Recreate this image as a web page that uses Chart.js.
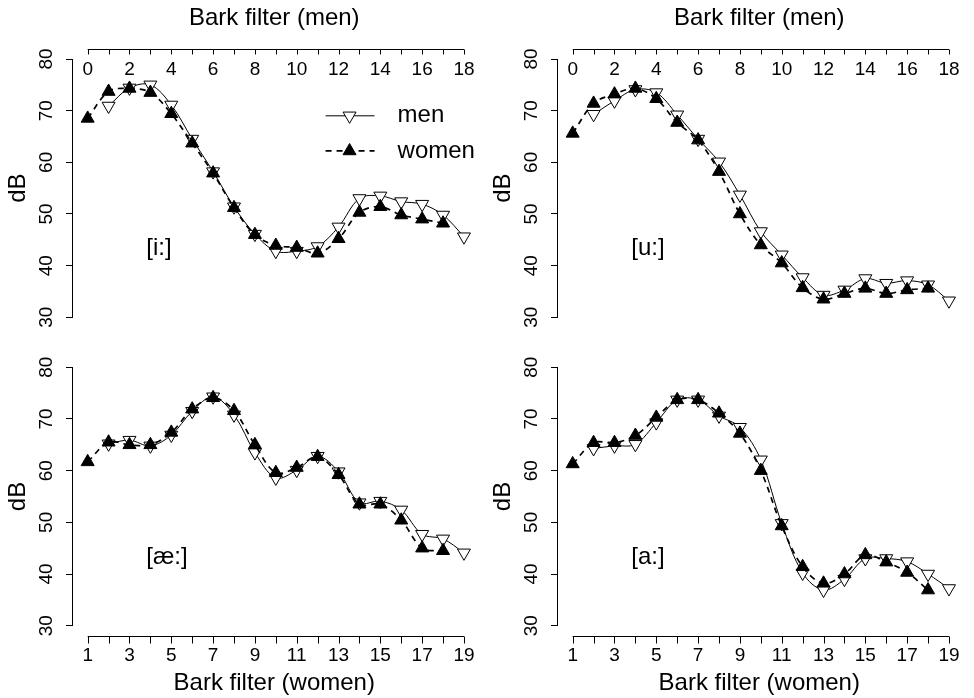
<!DOCTYPE html>
<html lang="en">
<head>
<meta charset="UTF-8">
<title>Bark filter spectra</title>
<script src="https://cdn.jsdelivr.net/npm/chart.js@4.4.0/dist/chart.umd.min.js"></script>
<style>
  html, body { margin: 0; padding: 0; background: #fff; }
  #page { position: relative; width: 974px; height: 698px; overflow: hidden; }
  .panel { position: absolute; }
</style>
</head>
<body>
<div id="page">
  <div class="panel" style="left:0;top:0"><canvas id="cI" width="485" height="340"></canvas></div>
  <div class="panel" style="left:485px;top:0"><canvas id="cU" width="485" height="340"></canvas></div>
  <div class="panel" style="left:0;top:340px"><canvas id="cAE" width="485" height="358"></canvas></div>
  <div class="panel" style="left:485px;top:340px"><canvas id="cA" width="485" height="358"></canvas></div>
</div>

<script>
// filter numbers; men and women are drawn one Bark apart on a shared position axis
const menBark   = [1, 2, 3, 4, 5, 6, 7, 8, 9, 10, 11, 12, 13, 14, 15, 16, 17, 18];
const womenBark = [1, 2, 3, 4, 5, 6, 7, 8, 9, 10, 11, 12, 13, 14, 15, 16, 17, 18];
const womenShift = 1;   // women filter n sits under men filter n-1

const menTickLabels   = [0, 2, 4, 6, 8, 10, 12, 14, 16, 18];
const womenTickLabels = [1, 3, 5, 7, 9, 11, 13, 15, 17, 19];
const axisPositions   = [0, 1, 2, 3, 4, 5, 6, 7, 8, 9, 10, 11, 12, 13, 14, 15, 16, 17, 18];
const dbTicks = [30, 40, 50, 60, 70, 80];

// dB per filter
const iMen    = [70.9, 74.4, 75.0, 71.1, 64.5, 58.2, 51.4, 46.1, 42.8, 42.8, 43.7, 47.5, 53.0, 53.5, 52.4, 51.9, 49.8, 45.6];
const iWomen  = [68.5, 73.7, 74.3, 73.5, 69.4, 63.7, 57.9, 51.2, 46.0, 43.9, 43.5, 42.4, 45.2, 50.3, 51.4, 49.8, 49.0, 48.2];
const uMen    = [69.3, 71.9, 74.1, 73.5, 69.2, 64.5, 60.1, 53.7, 46.6, 42.1, 37.7, 34.3, 35.3, 37.5, 36.6, 37.1, 36.3, 33.2];
const uWomen  = [65.6, 71.4, 73.2, 74.3, 72.3, 67.7, 64.3, 58.2, 50.0, 44.0, 40.5, 35.7, 33.5, 34.6, 35.6, 34.6, 35.3, 35.6];
const aeMen   = [65.2, 65.9, 64.8, 66.9, 71.5, 74.3, 70.8, 63.5, 58.6, 60.1, 62.8, 59.8, 53.8, 54.1, 52.4, 47.7, 46.8, 44.1];
const aeWomen = [61.7, 65.5, 65.0, 65.0, 67.4, 71.9, 74.1, 71.6, 65.0, 59.6, 60.6, 62.7, 59.2, 53.5, 53.5, 50.4, 45.0, 44.5];
const aMen    = [64.3, 64.8, 65.1, 69.3, 73.7, 73.7, 70.6, 68.4, 62.1, 49.8, 40.2, 36.9, 39.0, 43.0, 43.0, 42.4, 40.0, 37.2];
const aWomen  = [61.3, 65.4, 65.4, 66.8, 70.3, 73.7, 73.7, 71.1, 67.2, 60.0, 49.3, 41.4, 38.2, 40.0, 43.7, 42.3, 40.3, 36.9];

const FONT = "'Liberation Sans', Arial, Helvetica, sans-serif";

// R-like detached x axis, vowel label and the legend
const rAxes = {
    id: 'rAxes',
    afterDraw(chart, args, opts) {
        const ctx = chart.ctx;
        const xs = chart.scales.x, ys = chart.scales.y;
        const area = chart.chartArea;
        ctx.save();
        ctx.strokeStyle = '#000';
        ctx.lineWidth = 1;
        let y0, y1;
        if (opts.top) { y0 = Math.round(area.top - 10) + 0.5; y1 = y0 + 5; }
        else { y0 = Math.round(area.bottom + 10) + 0.5; y1 = y0 + 7; }
        ctx.beginPath();
        ctx.moveTo(xs.getPixelForValue(0), y0);
        ctx.lineTo(xs.getPixelForValue(18), y0);
        axisPositions.forEach(v => {
            const px = Math.round(xs.getPixelForValue(v)) + 0.5;
            ctx.moveTo(px, y0);
            ctx.lineTo(px, y1);
        });
        ctx.stroke();

        ctx.fillStyle = '#000';
        ctx.font = '24px ' + FONT;
        ctx.textAlign = 'left';
        ctx.textBaseline = 'middle';
        ctx.fillText(opts.vowel, xs.getPixelForValue(2.8), ys.getPixelForValue(43.3));

        if (opts.legend) {
            const lx = xs.getPixelForValue(11.38);
            const rows = [
                { text: 'men', y: ys.getPixelForValue(69), dash: [], width: 1, fill: '#fff', rot: 180 },
                { text: 'women', y: ys.getPixelForValue(62.2), dash: [6, 5], width: 1.7, fill: '#000', rot: 0 }
            ];
            rows.forEach(r => {
                ctx.setLineDash(r.dash);
                ctx.lineWidth = r.width;
                ctx.beginPath();
                ctx.moveTo(lx, r.y);
                ctx.lineTo(lx + 49, r.y);
                ctx.stroke();
                ctx.setLineDash([]);
                ctx.lineWidth = 1;
                ctx.fillStyle = r.fill;
                Chart.helpers.drawPoint(ctx, { pointStyle: 'triangle', rotation: r.rot, radius: 7.5, borderWidth: 1 }, lx + 24, r.y);
                ctx.fillStyle = '#000';
                ctx.fillText(r.text, lx + 72, r.y);
            });
        }
        ctx.restore();
    }
};

function makePanel(id, vowel, men, women, top, legend) {
    return new Chart(document.getElementById(id), {
        type: 'line',
        data: {
            datasets: [
                {
                    label: 'men',
                    data: menBark.map((b, i) => ({ x: b, y: men[i] })),
                    borderColor: '#000',
                    borderWidth: 1,
                    tension: 0.35,
                    pointStyle: 'triangle',
                    rotation: 180,
                    pointRadius: 7.5,
                    pointBackgroundColor: '#fff',
                    pointBorderColor: '#000',
                    pointBorderWidth: 1,
                    order: 1
                },
                {
                    label: 'women',
                    data: womenBark.map((b, i) => ({ x: b - womenShift, y: women[i] })),
                    borderColor: '#000',
                    borderWidth: 1.7,
                    borderDash: [6, 5],
                    tension: 0.35,
                    pointStyle: 'triangle',
                    pointRadius: 7.5,
                    pointBackgroundColor: '#000',
                    pointBorderColor: '#000',
                    pointBorderWidth: 1,
                    order: 0
                }
            ]
        },
        options: {
            responsive: false,
            animation: false,
            layout: { padding: { left: 0, right: 4, top: top ? 0 : 27.3, bottom: top ? 22.7 : 0 } },
            plugins: {
                legend: { display: false },
                tooltip: { enabled: false },
                rAxes: { top: top, vowel: vowel, legend: legend }
            },
            scales: {
                x: {
                    type: 'linear',
                    position: top ? 'top' : 'bottom',
                    min: -0.75,
                    max: 18.6,
                    grid: { display: false, drawTicks: false },
                    border: { display: false },
                    afterBuildTicks: s => { s.ticks = axisPositions.map(v => ({ value: v })); },
                    afterFit: s => {
                        s.height = top ? 59 : 72.3;
                        s.paddingLeft = 0;
                        s.paddingRight = 0;
                    },
                    ticks: {
                        autoSkip: false,
                        minRotation: 0,
                        maxRotation: 0,
                        // top labels sit inside the plot, under the axis line
                        mirror: top,
                        padding: top ? -0.6 : 19,
                        color: '#000',
                        font: { family: FONT, size: 19 },
                        callback: v => {
                            if (top) return menTickLabels.includes(v) ? String(v) : '';
                            const w = v + womenShift;
                            return womenTickLabels.includes(w) ? String(w) : '';
                        }
                    },
                    title: {
                        display: true,
                        text: top ? 'Bark filter (men)' : 'Bark filter (women)',
                        color: '#000',
                        font: { family: FONT, size: 24, lineHeight: 1 },
                        padding: top ? { top: 6, bottom: 0 } : { top: 0, bottom: 3 }
                    }
                },
                y: {
                    min: 30,
                    max: 80,
                    afterBuildTicks: s => { s.ticks = dbTicks.map(v => ({ value: v })); },
                    afterFit: s => { s.width = 72; },
                    grid: { display: true, drawOnChartArea: false, tickLength: 6, color: '#000', tickColor: '#000' },
                    border: { display: true, color: '#000', width: 1 },
                    ticks: {
                        minRotation: 90,
                        maxRotation: 90,
                        crossAlign: 'center',
                        padding: 8.7,
                        color: '#000',
                        font: { family: FONT, size: 19 }
                    },
                    title: {
                        display: true,
                        text: 'dB',
                        color: '#000',
                        font: { family: FONT, size: 24, lineHeight: 1 },
                        padding: { top: 6, bottom: 0 }
                    }
                }
            }
        },
        plugins: [rAxes]
    });
}

makePanel('cI', '[i:]', iMen, iWomen, true, true);
makePanel('cU', '[u:]', uMen, uWomen, true, false);
makePanel('cAE', '[æ:]', aeMen, aeWomen, false, false);
makePanel('cA', '[a:]', aMen, aWomen, false, false);
</script>
</body>
</html>
